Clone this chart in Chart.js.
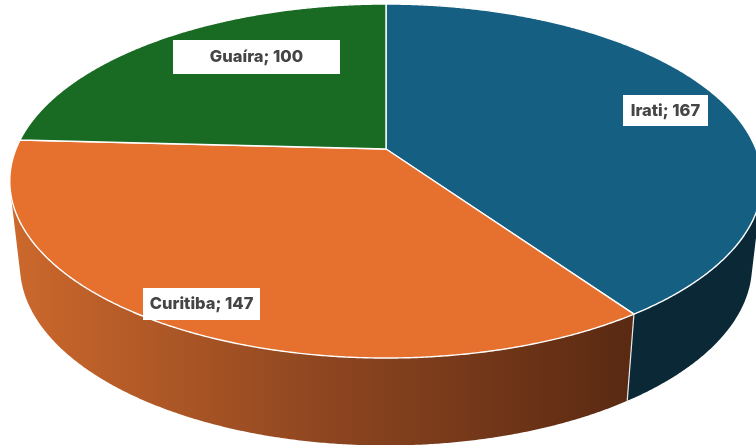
<!DOCTYPE html>
<html>
<head>
<meta charset="utf-8">
<style>html,body{margin:0;padding:0;background:#fff}canvas{display:block}</style>
<script src="https://cdn.jsdelivr.net/npm/chart.js@4"></script>
</head>
<body>
<canvas id="c" width="756" height="445"></canvas>
<script>
const categories = ['Irati', 'Curitiba', 'Guaíra'];
const values = [167, 147, 100];
const topColors = ['#156082', '#E6712F', '#196B24'];
const wallColors = ['#0A2835', null, '#0C3512'];
// Label boxes: left, top, width, height
const labelBoxes = [[623, 95, 85, 31], [143, 288, 117, 32], [173, 40, 167, 34]];

// Perspective projection of the pie disc: angle from 12 o'clock, clockwise
const topDisc = {cx: 386, cy: 149, a: 370, b: 171.2, k: -0.181};
const baseDisc = {cx: 386, cy: 233, a: 360, b: 174, k: -0.181};
function project(d, t) {
  const u = Math.sin(t), v = -Math.cos(t), w = 1 + d.k * v;
  return [d.cx + d.a * u / w, d.cy + d.b * v / w];
}
const toTheta = ang => ang + Math.PI / 2;

// Top faces drawn by the library's arc element, in projected form
Chart.ArcElement.prototype.draw = function (ctx) {
  const s = toTheta(this.startAngle), e = toTheta(this.endAngle);
  ctx.save();
  ctx.beginPath();
  ctx.moveTo(topDisc.cx, topDisc.cy);
  const n = Math.ceil((e - s) * 180);
  for (let i = 0; i <= n; i++) {
    const p = project(topDisc, s + (e - s) * i / n);
    ctx.lineTo(p[0], p[1]);
  }
  ctx.closePath();
  ctx.fillStyle = this.options.backgroundColor;
  ctx.fill();
  ctx.lineJoin = 'round';
  ctx.strokeStyle = '#fff';
  ctx.lineWidth = 1.4;
  ctx.stroke();
  ctx.restore();
};

const wallPlugin = {
  id: 'wall',
  beforeDatasetsDraw(chart) {
    const ctx = chart.ctx, arcs = chart.getDatasetMeta(0).data;
    const grad = ctx.createLinearGradient(12, 0, 635, 0);
    grad.addColorStop(0, '#CC682C');
    grad.addColorStop(0.5, '#8E4620');
    grad.addColorStop(1, '#592912');
    [2, 0, 1].forEach(idx => {
      const arc = arcs[idx];
      const s = toTheta(arc.startAngle), e = toTheta(arc.endAngle);
      ctx.fillStyle = wallColors[idx] || grad;
      const n = Math.ceil((e - s) * 180);
      ctx.beginPath();
      for (let i = 0; i < n; i++) {
        const t0 = s + (e - s) * i / n, t1 = s + (e - s) * (i + 1) / n;
        let q = [project(topDisc, t0), project(topDisc, t1), project(baseDisc, t1), project(baseDisc, t0)];
        let area = 0;
        for (let j = 0; j < 4; j++) {
          const m = q[j], o = q[(j + 1) % 4];
          area += m[0] * o[1] - o[0] * m[1];
        }
        if (area < 0) q = q.reverse();
        ctx.moveTo(q[0][0], q[0][1]);
        for (let j = 1; j < 4; j++) ctx.lineTo(q[j][0], q[j][1]);
        ctx.closePath();
      }
      ctx.fill('nonzero');
    });
    // white seam where the two visible walls meet
    const t = toTheta(arcs[0].endAngle);
    const p = project(topDisc, t), q = project(baseDisc, t);
    ctx.strokeStyle = '#e8e8e8'; ctx.lineWidth = 1.2;
    ctx.beginPath(); ctx.moveTo(p[0], p[1]); ctx.lineTo(q[0], q[1]); ctx.stroke();
  },
  afterDatasetsDraw(chart) {
    const ctx = chart.ctx;
    ctx.save();
    ctx.font = '800 16.5px Inter, "Liberation Sans", sans-serif';
    ctx.textAlign = 'center';
    ctx.textBaseline = 'middle';
    categories.forEach((name, i) => {
      const [x, y, w, h] = labelBoxes[i];
      ctx.fillStyle = '#fff';
      ctx.fillRect(x, y, w, h);
      ctx.fillStyle = '#454545';
      ctx.fillText(name + '; ' + values[i], x + w / 2, y + h / 2 + 0.5);
    });
    ctx.restore();
  }
};

new Chart(document.getElementById('c'), {
  type: 'pie',
  data: {labels: categories, datasets: [{data: values, backgroundColor: topColors, borderWidth: 0}]},
  options: {
    responsive: false,
    animation: false,
    rotation: 0,
    plugins: {legend: {display: false}, tooltip: {enabled: false}}
  },
  plugins: [wallPlugin]
});
</script>
</body>
</html>
